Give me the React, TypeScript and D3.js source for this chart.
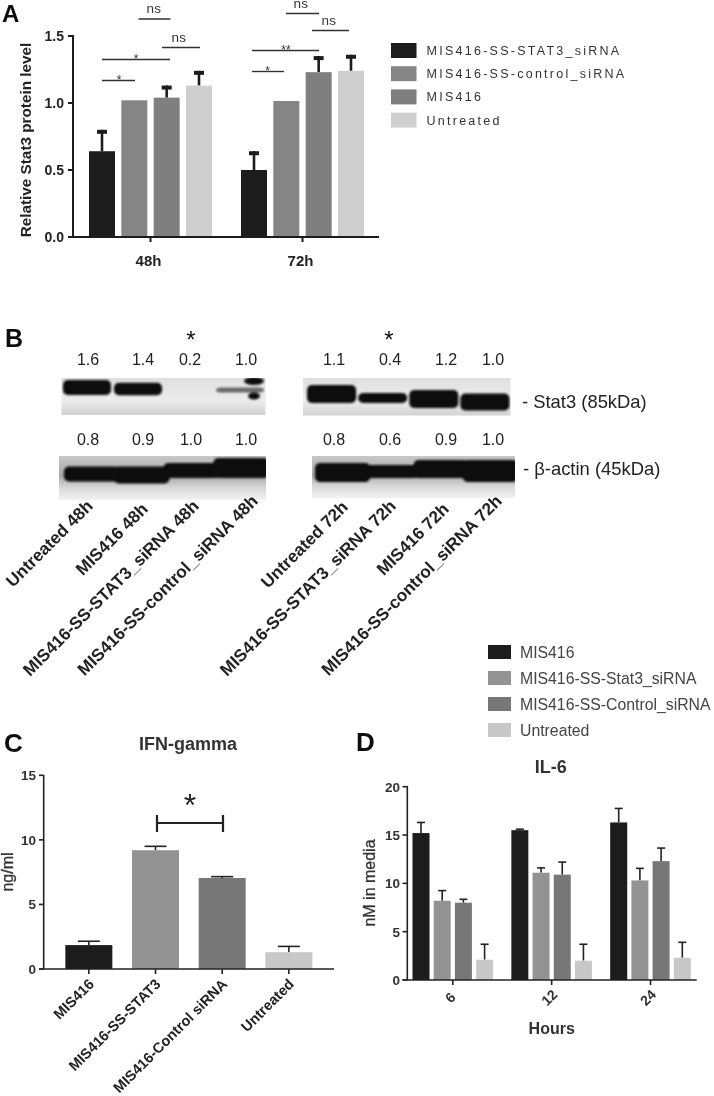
import React from "react";
import * as d3 from "d3";

// Panel A
const aGroups = ["48h", "72h"];
const aSeries = ["MIS416-SS-STAT3_siRNA", "MIS416-SS-control_siRNA", "MIS416", "Untreated"];
const aColors = ["#1a1a1a", "#858585", "#7f7f7f", "#cfcfcf"];
const aValues = [[0.64, 1.02, 1.04, 1.13], [0.5, 1.015, 1.23, 1.24]];
const aTops = [[0.8, 1.02, 1.13, 1.24], [0.64, 1.015, 1.35, 1.36]];
const aTicks = [0, 0.5, 1, 1.5];
const aBrackets: [number, number, number, string, number][] = [
  [138.5, 170.5, 19, "ns", 154],
  [162, 200, 47.5, "ns", 179],
  [102, 170, 59.5, "*", 136],
  [102, 135, 80.5, "*", 119],
  [286, 319, 13.5, "ns", 301],
  [312, 349, 30.5, "ns", 329],
  [252, 319, 50.5, "**", 286],
  [252, 284, 71.5, "*", 267.5],
];

// Panel B
const lanes = ["l1", "l2", "l3", "l4"];
const stat48Labels = ["1.6", "1.4", "0.2", "1.0"];
const stat72Labels = ["1.1", "0.4", "1.2", "1.0"];
const actin48Labels = ["0.8", "0.9", "1.0", "1.0"];
const actin72Labels = ["0.8", "0.6", "0.9", "1.0"];
const stat48Bands = [[387.5, 15, 1], [389, 12.5, 1], [388, 1, 0.02], [390, 5, 0.55]];
const stat72Bands = [[394, 18, 1], [398, 10, 1], [399, 18, 1], [402, 17, 1]];
const actin48Bands = [[474, 15, 1], [475, 17, 1], [470.5, 15, 1], [468, 20, 1]];
const actin72Bands = [[472.5, 19, 1], [471.5, 13, 1], [469, 18, 1], [471, 22, 1]];
const blotLabels48 = ["Untreated 48h", "MIS416 48h", "MIS416-SS-STAT3_siRNA 48h", "MIS416-SS-control_siRNA 48h"];
const blotLabels72 = ["Untreated 72h", "MIS416-SS-STAT3_siRNA 72h", "MIS416 72h", "MIS416-SS-control_siRNA 72h"];

// Panel C
const cCats = ["MIS416", "MIS416-SS-STAT3", "MIS416-Control siRNA", "Untreated"];
const cColors = ["#1a1a1a", "#939393", "#777777", "#c8c8c8"];
const cValues = [1.85, 9.2, 7.05, 1.3];
const cTops = [2.15, 9.5, 7.15, 1.75];
const cTicks = [0, 5, 10, 15];

// Panel D
const dGroups = ["6", "12", "24"];
const dSeries = ["MIS416", "MIS416-SS-Stat3_siRNA", "MIS416-SS-Control_siRNA", "Untreated"];
const dColors = ["#1a1a1a", "#939393", "#777777", "#c8c8c8"];
const dValues = [[15.2, 8.2, 8.0, 2.1], [15.5, 11.1, 10.9, 2.0], [16.3, 10.3, 12.3, 2.3]];
const dTops = [[16.3, 9.25, 8.35, 3.7], [15.6, 11.6, 12.2, 3.7], [17.75, 11.55, 13.65, 3.9]];
const dTicks = [0, 5, 10, 15, 20];

const SANS = "'Liberation Sans', Arial, sans-serif";
const INK = "#222";

const yA = d3.scaleLinear().domain([0, 1.5]).range([237, 36]);
const xAG = d3.scaleLinear().domain([0, 1]).range([150.5, 302.5]);
const xAS = d3.scaleLinear().domain([0, 3]).range([-48.5, 48.5]);

const yC = d3.scaleLinear().domain([0, 15]).range([969, 775.3]);
const xC = d3.scaleBand<string>().domain(cCats).range([55.5, 322.2]).paddingInner(0.295).paddingOuter(0.1475);

const yD = d3.scaleLinear().domain([0, 20]).range([980, 786.7]);
const xDG = d3.scaleLinear().domain([0, 2]).range([452.8, 650.5]);
const xDS = d3.scaleLinear().domain([0, 3]).range([-31.8, 31.8]);

function Rot({ x, y, size, children, weight = 700 }: any) {
  return (
    <text transform={`translate(${x},${y}) rotate(-45)`} textAnchor="end" fontSize={size} fontWeight={weight} fill={INK} fontFamily={SANS}>
      {children}
    </text>
  );
}

function Blot({ x0, x1, y0, y1, bands, grad, id, inset, left = 0, children }: any) {
  const lane = d3.scaleBand<string>().domain(lanes).range([x0 + left, x1]);
  const w = lane.bandwidth();
  return (
    <g>
      <rect x={x0} y={y0} width={x1 - x0} height={y1 - y0} fill={grad} />
      <clipPath id={id}><rect x={x0} y={y0} width={x1 - x0} height={y1 - y0} /></clipPath>
      <g clipPath={`url(#${id})`}>
        <g filter="url(#band)">
          {bands.map((b: number[], i: number) => (
            <rect key={i} x={lane(lanes[i])! + inset} width={w - 2 * inset} y={b[0] - b[1] / 2} height={b[1]} rx={5} fill="#0a0a0a" opacity={b[2]} />
          ))}
          {children}
        </g>
      </g>
    </g>
  );
}

export default function App() {
  return (
    <svg width={714} height={1096} style={{ position: "absolute", left: 0, top: 0, background: "#fff" }} fontFamily={SANS}>
      <defs>
        <filter id="band" x="-30%" y="-30%" width="160%" height="160%"><feGaussianBlur stdDeviation="1.3" /></filter>
        <filter id="soft" x="0" y="0" width="714" height="1096" filterUnits="userSpaceOnUse">
          <feGaussianBlur stdDeviation="0.45" />
        </filter>
        <linearGradient id="gs" x1="0" x2="0" y1="0" y2="1">
          <stop offset="0" stopColor="#e0e0e0" /><stop offset="0.6" stopColor="#ececec" /><stop offset="1" stopColor="#d2d2d2" />
        </linearGradient>
        <linearGradient id="ga" x1="0" x2="0" y1="0" y2="1">
          <stop offset="0" stopColor="#c8c8c8" /><stop offset="0.45" stopColor="#a8a8a8" /><stop offset="0.72" stopColor="#d8d8d8" /><stop offset="1" stopColor="#f2f2f2" />
        </linearGradient>
      </defs>
      <g filter="url(#soft)">
        {/* Panel letters */}
        <text x={2} y={22} fontSize={24} fontWeight={700} fill="#111">A</text>
        <text x={5} y={347} fontSize={25} fontWeight={700} fill="#111">B</text>
        <text x={4} y={752} fontSize={26} fontWeight={700} fill="#111">C</text>
        <text x={356} y={751} fontSize={26} fontWeight={700} fill="#111">D</text>

        {/* Panel A */}
        {aValues.map((vals, g) =>
          vals.map((v, i) => {
            const cx = xAG(g) + xAS(i);
            return (
              <g key={`${g}-${i}`}>
                {aTops[g][i] > v && (
                  <g stroke="#1a1a1a" fill="none">
                    <line x1={cx} x2={cx} y1={yA(v)} y2={yA(aTops[g][i])} strokeWidth={2.6} />
                    <line x1={cx - 5} x2={cx + 5} y1={yA(aTops[g][i]) + 2} y2={yA(aTops[g][i]) + 2} strokeWidth={4} />
                  </g>
                )}
                <rect x={cx - 13} width={26} y={yA(v)} height={yA(0) - yA(v)} fill={aColors[i]} />
              </g>
            );
          })
        )}
        <g stroke="#1a1a1a" strokeWidth={2}>
          <line x1={73} x2={73} y1={35} y2={237} />
          <line x1={68} x2={379} y1={237} y2={237} />
          {aTicks.map((t) => <line key={t} x1={68} x2={73} y1={yA(t)} y2={yA(t)} />)}
          {aGroups.map((g, i) => <line key={g} x1={xAG(i)} x2={xAG(i)} y1={237} y2={242} />)}
        </g>
        {aTicks.map((t) => (
          <text key={t} x={64} y={yA(t) + 5} textAnchor="end" fontSize={14} fontWeight={700} fill={INK}>{t.toFixed(1)}</text>
        ))}
        {aGroups.map((g, i) => (
          <text key={g} x={xAG(i) - 2} y={266} textAnchor="middle" fontSize={15} fontWeight={700} fill={INK}>{g}</text>
        ))}
        <text transform="translate(31,140) rotate(-90)" textAnchor="middle" fontSize={15.3} fontWeight={700} fill={INK}>Relative Stat3 protein level</text>
        {aBrackets.map(([a, b, y, label, cx], i) => (
          <g key={i}>
            <line x1={a} x2={b} y1={y} y2={y} stroke="#333" strokeWidth={1.4} />
            <text x={cx} y={label === "ns" ? y - 6 : y + 3} textAnchor="middle" fontSize={label === "ns" ? 13.5 : 12} letterSpacing={label === "ns" ? 0.3 : 0} fill="#333">{label}</text>
          </g>
        ))}
        {aSeries.map((s, i) => {
          const y = 43 + i * 23.2;
          return (
            <g key={s}>
              <rect x={391} y={y} width={25.5} height={15} fill={aColors[i]} />
              <text x={426.5} y={y + 12} fontSize={12.5} letterSpacing={2.26} fill="#333">{s}</text>
            </g>
          );
        })}

        {/* Panel B */}
        <Blot id="b1" x0={61.5} x1={265.5} y0={378} y1={415} bands={stat48Bands} grad="url(#gs)" inset={1.5}>
          <ellipse cx={254} cy={381} rx={10} ry={4} fill="#0a0a0a" />
          <ellipse cx={254} cy={396} rx={6} ry={3.5} fill="#0a0a0a" />
        </Blot>
        <Blot id="b2" x0={303} x1={510.5} y0={378} y1={415.5} bands={stat72Bands} grad="url(#gs)" inset={1} left={3} />
        <Blot id="b3" x0={59} x1={266} y0={456} y1={500} bands={actin48Bands} grad="url(#ga)" inset={-3} left={8} />
        <Blot id="b4" x0={312} x1={515} y0={456} y1={498} bands={actin72Bands} grad="url(#ga)" inset={-3} left={6} />
        {[stat48Labels, stat72Labels].map((row, r) =>
          row.map((t, i) => (
            <text key={`${r}${i}`} x={[[88, 143, 190, 246], [334, 390, 446, 493]][r][i]} y={365} textAnchor="middle" fontSize={16} fill="#222">{t}</text>
          ))
        )}
        {[actin48Labels, actin72Labels].map((row, r) =>
          row.map((t, i) => (
            <text key={`${r}${i}`} x={[[88, 143, 191, 246], [334, 390, 446, 493]][r][i]} y={445} textAnchor="middle" fontSize={16} fill="#222">{t}</text>
          ))
        )}
        <text x={191} y={348} textAnchor="middle" fontSize={24} fill="#111">*</text>
        <text x={389} y={348} textAnchor="middle" fontSize={24} fill="#111">*</text>
        <text x={522} y={408} fontSize={18.4} fill="#222">- Stat3 (85kDa)</text>
        <text x={523} y={475} fontSize={18.4} fill="#222">- β-actin (45kDa)</text>
        {blotLabels48.map((t, i) => (
          <Rot key={t} x={[94, 149, 200, 259][i]} y={[507, 510, 507, 502][i]} size={17.2}>{t}</Rot>
        ))}
        {blotLabels72.map((t, i) => (
          <Rot key={t} x={[349, 397, 450, 503][i]} y={[508, 507, 510, 502][i]} size={17.2}>{t}</Rot>
        ))}

        {/* Legend D */}
        {dSeries.map((s, i) => {
          const y = 645 + i * 26;
          return (
            <g key={s}>
              <rect x={488} y={y} width={23} height={14} fill={dColors[i]} />
              <text x={520} y={y + 12.5} fontSize={15.8} fill="#444">{s}</text>
            </g>
          );
        })}

        {/* Panel C */}
        <text x={188} y={750} textAnchor="middle" fontSize={18} fontWeight={700} fill="#333">IFN-gamma</text>
        {cCats.map((c, i) => {
          const x0 = xC(c)!;
          const w = xC.bandwidth();
          const cx = x0 + w / 2;
          return (
            <g key={c}>
              <g stroke="#222" strokeWidth={1.6}>
                <line x1={cx} x2={cx} y1={yC(cValues[i])} y2={yC(cTops[i])} />
                <line x1={cx - 11} x2={cx + 11} y1={yC(cTops[i])} y2={yC(cTops[i])} />
              </g>
              <rect x={x0} width={w} y={yC(cValues[i])} height={yC(0) - yC(cValues[i])} fill={cColors[i]} />
              <line x1={cx} x2={cx} y1={969} y2={974} stroke="#222" strokeWidth={1.6} />
              <Rot x={cx + 6} y={985} size={14.5}>{c}</Rot>
            </g>
          );
        })}
        <g stroke="#222" strokeWidth={1.6}>
          <line x1={43.7} x2={43.7} y1={775} y2={969} />
          <line x1={39} x2={334} y1={969} y2={969} />
          {cTicks.map((t) => <line key={t} x1={39} x2={43.7} y1={yC(t)} y2={yC(t)} />)}
        </g>
        {cTicks.map((t) => (
          <text key={t} x={36} y={yC(t) + 5} textAnchor="end" fontSize={13.5} fontWeight={700} fill="#333">{t}</text>
        ))}
        <text transform="translate(13,872) rotate(-90)" textAnchor="middle" fontSize={16} fill="#333" stroke="#333" strokeWidth={0.3}>ng/ml</text>
        <g stroke="#222" strokeWidth={2.2}>
          <line x1={157} x2={223} y1={823} y2={823} />
          <line x1={157} x2={157} y1={815} y2={832} />
          <line x1={223} x2={223} y1={815} y2={832} />
        </g>
        <text x={190} y={816} textAnchor="middle" fontSize={32} fill="#222">*</text>

        {/* Panel D */}
        <text x={550.7} y={773} textAnchor="middle" fontSize={18} fontWeight={700} fill="#333">IL-6</text>
        {dValues.map((vals, g) =>
          vals.map((v, i) => {
            const cx = xDG(g) + xDS(i);
            return (
              <g key={`${g}-${i}`}>
                <g stroke="#222" strokeWidth={1.6}>
                  <line x1={cx} x2={cx} y1={yD(v)} y2={yD(dTops[g][i])} />
                  <line x1={cx - 4} x2={cx + 4} y1={yD(dTops[g][i])} y2={yD(dTops[g][i])} />
                </g>
                <rect x={cx - 8.5} width={17} y={yD(v)} height={yD(0) - yD(v)} fill={dColors[i]} />
              </g>
            );
          })
        )}
        <g stroke="#222" strokeWidth={1.6}>
          <line x1={407.3} x2={407.3} y1={786} y2={980} />
          <line x1={402.5} x2={696.7} y1={980} y2={980} />
          {dTicks.map((t) => <line key={t} x1={402.5} x2={407.3} y1={yD(t)} y2={yD(t)} />)}
          {dGroups.map((g, i) => <line key={g} x1={xDG(i)} x2={xDG(i)} y1={980} y2={985} />)}
        </g>
        {dTicks.map((t) => (
          <text key={t} x={400} y={yD(t) + 5} textAnchor="end" fontSize={13.5} fontWeight={700} fill="#333">{t}</text>
        ))}
        {dGroups.map((g, i) => (
          <text key={g} transform={`translate(${xDG(i) + 3},1003) rotate(-45)`} textAnchor="middle" fontSize={14} fontWeight={700} fill="#333" dy="-0.2em">{g}</text>
        ))}
        <text transform="translate(375,883) rotate(-90)" textAnchor="middle" fontSize={16} fill="#333" stroke="#333" strokeWidth={0.3}>nM in media</text>
        <text x={551.7} y={1034} textAnchor="middle" fontSize={16} fontWeight={700} fill="#333">Hours</text>
      </g>
    </svg>
  );
}
